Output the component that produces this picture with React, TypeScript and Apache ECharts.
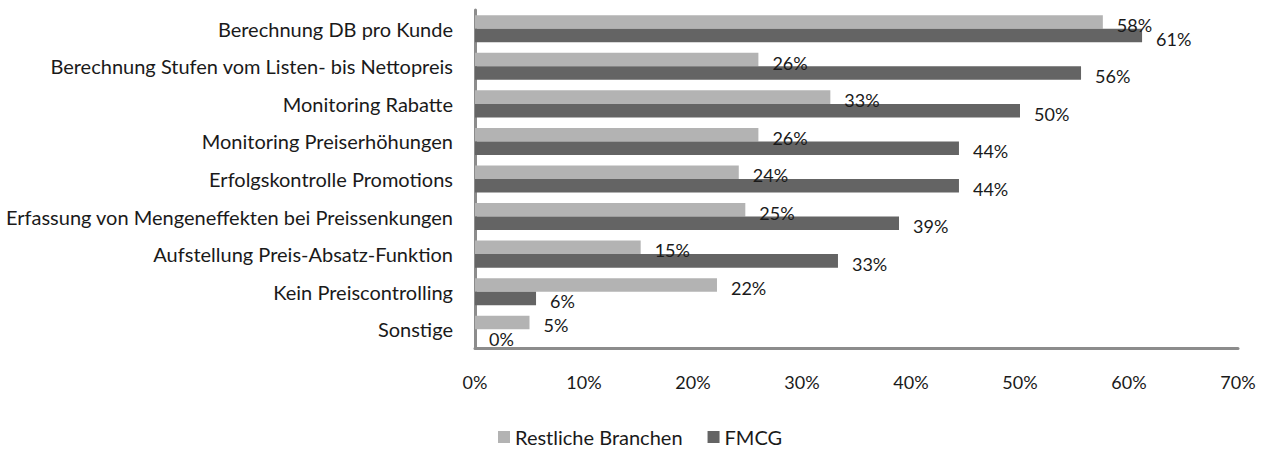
import React, { useEffect, useRef } from "react";
import * as echarts from "echarts";

const categories = [
  "Berechnung DB pro Kunde",
  "Berechnung Stufen vom Listen- bis Nettopreis",
  "Monitoring Rabatte",
  "Monitoring Preiserhöhungen",
  "Erfolgskontrolle Promotions",
  "Erfassung von Mengeneffekten bei Preissenkungen",
  "Aufstellung Preis-Absatz-Funktion",
  "Kein Preiscontrolling",
  "Sonstige",
];
const restlicheBranchen = [57.6, 26, 32.6, 26, 24.2, 24.8, 15.2, 22.2, 5];
const fmcg = [61.2, 55.6, 50, 44.4, 44.4, 38.9, 33.3, 5.6, 0];
const xTicks = [0, 10, 20, 30, 40, 50, 60, 70];

const FONT = "Lato";
const TEXT = "#1a1a1a";

export default function App() {
  const ref = useRef<HTMLDivElement>(null);
  useEffect(() => {
    document.body.style.margin = "0";
    if (!ref.current) return;
    const chart = echarts.init(ref.current, undefined, { renderer: "svg" });
    const label = {
      show: true,
      position: "right",
      distance: 14,
      offset: [0, 3],
      color: TEXT,
      fontFamily: FONT,
      fontSize: 18,
      formatter: (p: any) => Math.round(p.value) + "%",
    };
    chart.setOption({
      animation: false,
      textStyle: { fontFamily: FONT },
      grid: { left: 475, right: 36, top: 10, bottom: 101, containLabel: false },
      legend: {
        top: 427,
        left: 498,
        padding: 0,
        itemWidth: 12,
        itemHeight: 12,
        itemGap: 25,
        icon: "rect",
        textStyle: { fontFamily: FONT, fontSize: 20, lineHeight: 20, color: TEXT },
        data: ["Restliche Branchen", "FMCG"],
      },
      xAxis: {
        type: "value",
        min: xTicks[0],
        max: xTicks[xTicks.length - 1],
        interval: 10,
        axisLine: { show: true, lineStyle: { color: "#8c8c8c", width: 3 } },
        axisTick: { show: false },
        splitLine: { show: false },
        axisLabel: {
          formatter: (v: number) => v + "%",
          color: TEXT,
          fontFamily: FONT,
          fontSize: 18,
          margin: 25,
        },
      },
      yAxis: {
        type: "category",
        inverse: true,
        data: categories,
        axisLine: { show: true, lineStyle: { color: "#8c8c8c", width: 3 } },
        axisTick: { show: false },
        axisLabel: { color: TEXT, fontFamily: FONT, fontSize: 20, margin: 22 },
      },
      series: [
        {
          name: "Restliche Branchen",
          type: "bar",
          data: restlicheBranchen,
          itemStyle: { color: "#b3b3b3" },
          barGap: "0%",
          barCategoryGap: "28%",
          label,
        },
        {
          name: "FMCG",
          type: "bar",
          data: fmcg,
          itemStyle: { color: "#646464" },
          barGap: "0%",
          barCategoryGap: "28%",
          label,
        },
      ],
    });
    return () => chart.dispose();
  }, []);
  return <div ref={ref} style={{ width: 1274, height: 449 }} />;
}
